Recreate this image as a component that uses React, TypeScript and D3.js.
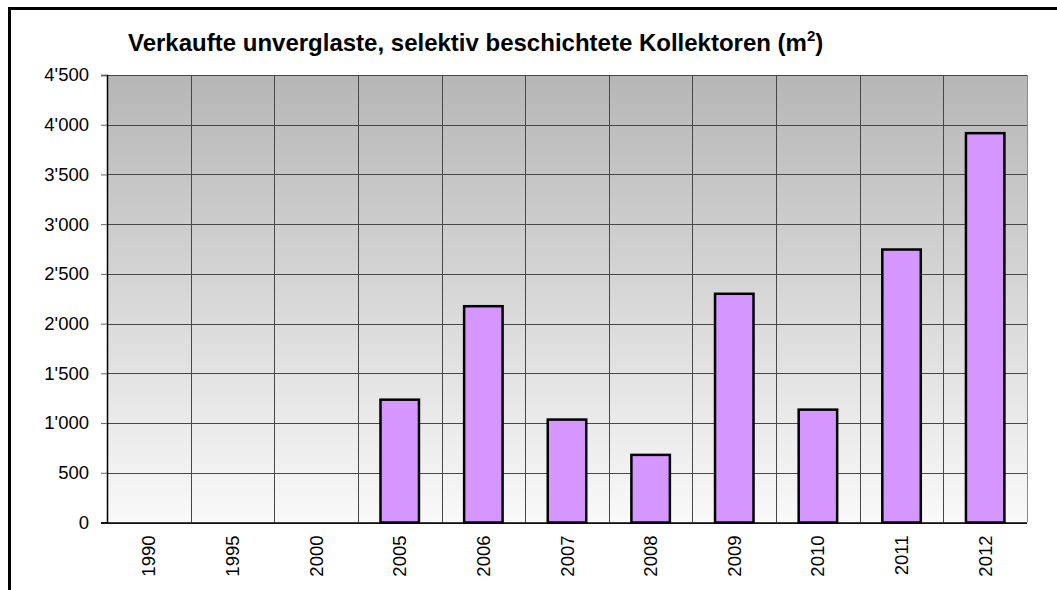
import { useEffect, useRef } from 'react';
import * as d3 from 'd3';

// Sold unglazed, selectively coated collectors (m²)
const years = ['1990', '1995', '2000', '2005', '2006', '2007', '2008', '2009', '2010', '2011', '2012'];
const areas = [0, 0, 0, 1235, 2175, 1035, 680, 2300, 1135, 2745, 3915];
const yTicks = [0, 500, 1000, 1500, 2000, 2500, 3000, 3500, 4000, 4500];

const W = 1057;
const H = 590;
const FONT = 'Arial, "Liberation Sans", Helvetica, sans-serif';

const fmt = (v: number) => {
  const s = d3.format(',')(v);
  return s.replace(/,/g, "'");
};

export default function App() {
  const svgRef = useRef<SVGSVGElement>(null);

  useEffect(() => {
    if (!svgRef.current) return;
    const svg = d3.select(svgRef.current);
    svg.selectAll('*').remove();

    const M = { top: 75, right: 30, bottom: 67.5, left: 107 };
    const iW = W - M.left - M.right;
    const iH = H - M.top - M.bottom;

    // ── Background gradient ────────────────────────────────────────────────
    const defs = svg.append('defs');
    const g = defs.append('linearGradient')
      .attr('id', 'bg').attr('x1', '0').attr('x2', '0').attr('y1', '0').attr('y2', '1');
    g.append('stop').attr('offset', '0%').attr('stop-color', '#b6b6b6');
    g.append('stop').attr('offset', '100%').attr('stop-color', '#f9f9f9');

    // Outer frame (runs past the window on right and bottom)
    svg.append('rect')
      .attr('x', 9.5).attr('y', 8.5).attr('width', W + 20).attr('height', H + 20)
      .attr('fill', '#fff').attr('stroke', '#000').attr('stroke-width', 3);

    const root = svg.append('g').attr('transform', `translate(${M.left},${M.top})`);

    const x = d3.scaleBand<string>().domain(years).range([0, iW]).padding(0);
    const y = d3.scaleLinear().domain([0, 4500]).range([iH, 0]);

    root.append('rect')
      .attr('width', iW).attr('height', iH).attr('fill', 'url(#bg)');

    // ── Grid ───────────────────────────────────────────────────────────────
    root.append('g')
      .call(d3.axisLeft(y).tickValues(yTicks).tickSize(-iW).tickFormat(() => ''))
      .call(s => s.select('.domain').remove())
      .call(s => s.selectAll('line').attr('stroke', '#474747').attr('stroke-width', 1)
        .attr('shape-rendering', 'crispEdges'));

    root.append('g')
      .selectAll('line')
      .data(years.slice(1))
      .join('line')
      .attr('x1', d => Math.round(x(d)!) + 0.5).attr('x2', d => Math.round(x(d)!) + 0.5)
      .attr('y1', 0).attr('y2', iH)
      .attr('stroke', '#474747').attr('stroke-width', 1);

    // right plot edge
    root.append('line')
      .attr('x1', iW + 0.5).attr('x2', iW + 0.5).attr('y1', 0).attr('y2', iH)
      .attr('stroke', '#8a8a8a');

    // ── Y axis ─────────────────────────────────────────────────────────────
    root.append('g')
      .call(d3.axisLeft(y).tickValues(yTicks).tickSize(6).tickPadding(12).tickFormat(d => fmt(+d)))
      .call(s => s.select('.domain').attr('stroke', '#000').attr('stroke-width', 1.5))
      .call(s => s.selectAll('.tick line').attr('stroke', '#666'))
      .call(s => s.selectAll('.tick text')
        .attr('fill', '#000').attr('font-size', 18.5).attr('font-family', FONT));

    // ── Bars ───────────────────────────────────────────────────────────────
    const bw = x.bandwidth() * 0.46;
    root.append('g')
      .selectAll('rect')
      .data(years.map((yr, i) => ({ yr, v: areas[i] })).filter(d => d.v > 0))
      .join('rect')
      .attr('x', d => x(d.yr)! + x.bandwidth() / 2 - bw / 2)
      .attr('y', d => y(d.v))
      .attr('width', bw)
      .attr('height', d => iH - y(d.v))
      .attr('fill', '#d597ff')
      .attr('stroke', '#000').attr('stroke-width', 2.5);

    // ── X axis ─────────────────────────────────────────────────────────────
    root.append('line')
      .attr('x1', -6).attr('x2', iW).attr('y1', iH + 0.5).attr('y2', iH + 0.5)
      .attr('stroke', '#000').attr('stroke-width', 1.5);

    root.append('g')
      .selectAll('text')
      .data(years)
      .join('text')
      .attr('transform', d => `translate(${x(d)! + x.bandwidth() / 2 + 6.5},${iH + 13}) rotate(-90)`)
      .attr('text-anchor', 'end')
      .attr('font-size', 18.5).attr('font-family', FONT).attr('fill', '#000')
      .text(d => d);

    // ── Title ──────────────────────────────────────────────────────────────
    const t = svg.append('text')
      .attr('x', 128).attr('y', 51)
      .attr('font-size', 24).attr('font-weight', 'bold').attr('font-family', FONT)
      .attr('fill', '#000');
    t.append('tspan').text('Verkaufte unverglaste, selektiv beschichtete Kollektoren (m');
    t.append('tspan').attr('font-size', 15).attr('dy', -10).text('2');
    t.append('tspan').attr('dy', 10).text(')');
  }, []);

  return (
    <div style={{ position: 'absolute', left: 0, top: 0 }}>
      <svg ref={svgRef} width={W} height={H} style={{ display: 'block' }} />
    </div>
  );
}
